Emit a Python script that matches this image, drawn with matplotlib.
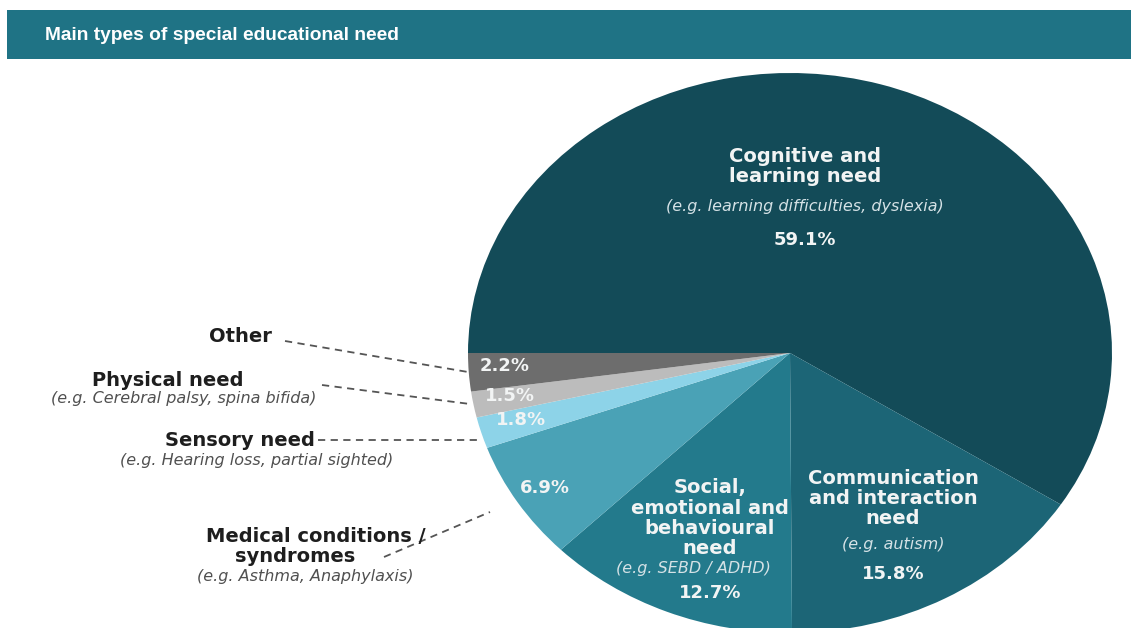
import matplotlib
matplotlib.use("Agg")
import matplotlib.pyplot as plt
from matplotlib.patches import Rectangle

# data
categories = ["Cognitive and learning need", "Communication and interaction need",
              "Social, emotional and behavioural need", "Medical conditions / syndromes",
              "Sensory need", "Physical need", "Other"]
shares = [59.1, 15.8, 12.7, 6.9, 1.8, 1.5, 2.2]
colors = ["#134b58", "#1c6576", "#237a8c", "#4aa2b6", "#8dd3e8", "#bcbcbc", "#6d6d6d"]

TITLE = "Main types of special educational need"

W, H = 1131, 628
fig = plt.figure(figsize=(W / 100, H / 100), dpi=100)
fig.patch.set_facecolor("white")

# pie is stretched horizontally in the original, so aspect is left free
cx, cy, rx, ry = 790, 353, 322, 280
pie_ax = fig.add_axes([(cx - rx) / W, (H - cy - ry) / H, 2 * rx / W, 2 * ry / H])
pie_ax.pie(shares, colors=colors, startangle=180, counterclock=False,
           wedgeprops=dict(linewidth=0))
pie_ax.set_aspect("auto")
pie_ax.set_xlim(-1, 1)
pie_ax.set_ylim(-1, 1)
pie_ax.axis("off")

# overlay in pixel coordinates for header, labels and leaders
ov = fig.add_axes([0, 0, 1, 1], facecolor="none")
ov.set_xlim(0, W)
ov.set_ylim(H, 0)
ov.axis("off")

ov.add_patch(Rectangle((7, 10), W - 7, 49, facecolor="#1f7385", edgecolor="none"))
ov.text(45, 36, TITLE, color="white", fontsize=13.8, fontweight="bold",
        family=["Liberation Sans Narrow", "Liberation Sans", "DejaVu Sans"],
        va="center", ha="left")

WHITE = "#f2f4f4"
SUB = "#d5e2e6"
pct = [f"{v:.1f}%" for v in shares]

def block(x, y, lines, size=14):
    for i, line in enumerate(lines):
        ov.text(x, y + i * 20, line, color=WHITE, fontsize=size, fontweight="bold",
                ha="center", va="center")

# Cognitive
block(805, 157, ["Cognitive and", "learning need"])
ov.text(805, 207, "(e.g. learning difficulties, dyslexia)", color=SUB, fontsize=11.5,
        style="italic", ha="center", va="center")
ov.text(805, 240, pct[0], color=WHITE, fontsize=13, fontweight="bold", ha="center", va="center")

# Communication
block(893, 478, ["Communication", "and interaction", "need"])
ov.text(893, 545, "(e.g. autism)", color=SUB, fontsize=11.5, style="italic",
        ha="center", va="center")
ov.text(893, 574, pct[1], color=WHITE, fontsize=13, fontweight="bold", ha="center", va="center")

# Social
block(710, 488, ["Social,", "emotional and", "behavioural", "need"])
ov.text(693, 568, "(e.g. SEBD / ADHD)", color=SUB, fontsize=11.5, style="italic",
        ha="center", va="center")
ov.text(710, 593, pct[2], color=WHITE, fontsize=13, fontweight="bold", ha="center", va="center")

# small slices
for (x, y), p in zip([(545, 488), (521, 420), (510, 396), (505, 366)], pct[3:]):
    ov.text(x, y, p, color=WHITE, fontsize=13, fontweight="bold", ha="center", va="center")

# outside labels
DARK = "#1e1e1e"
GREY = "#505050"
outside = [
    (240, 336, "Other", None, None),
    (168, 380, "Physical need", (184, 399), "(e.g. Cerebral palsy, spina bifida)"),
    (240, 440, "Sensory need", (257, 461), "(e.g. Hearing loss, partial sighted)"),
    (316, 536, "Medical conditions /\nsyndromes", (305, 577), "(e.g. Asthma, Anaphylaxis)"),
]
for x, y, head, subpos, sub in outside:
    if "\n" in head:
        for i, line in enumerate(head.split("\n")):
            ov.text(x - i * 21, y + i * 20, line, color=DARK, fontsize=14,
                    fontweight="bold", ha="center", va="center")
    else:
        ov.text(x, y, head, color=DARK, fontsize=14, fontweight="bold",
                ha="center", va="center")
    if sub:
        ov.text(subpos[0], subpos[1], sub, color=GREY, fontsize=11.5, style="italic",
                ha="center", va="center")

leaders = [((285, 341), (468, 372)),
           ((322, 385), (470, 404)),
           ((318, 440), (482, 440)),
           ((384, 557), (490, 512))]
for (x0, y0), (x1, y1) in leaders:
    ov.plot([x0, x1], [y0, y1], color="#555555", linestyle=(0, (4, 3)), linewidth=1.3)

fig.savefig("out.png", dpi=100)
